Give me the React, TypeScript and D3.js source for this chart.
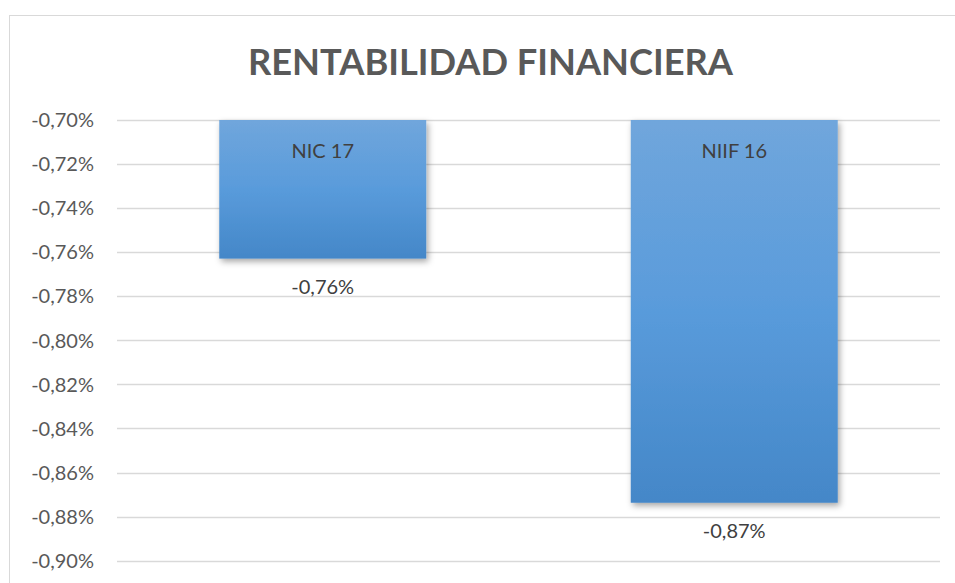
import React, { useRef, useEffect } from 'react';
import * as d3 from 'd3';

const categories = ['NIC 17', 'NIIF 16'];
const values = [-0.7629, -0.8737];
const valueLabels = ['-0,76%', '-0,87%'];
const ticks = [-0.70, -0.72, -0.74, -0.76, -0.78, -0.80, -0.82, -0.84, -0.86, -0.88, -0.90];

const W = 955;
const H = 583;

const App = () => {
  const ref = useRef<SVGSVGElement>(null);

  useEffect(() => {
    const svg = d3.select(ref.current);
    svg.selectAll('*').remove();

    const defs = svg.append('defs');
    const grad = defs.append('linearGradient')
      .attr('id', 'barGrad')
      .attr('x1', 0).attr('y1', 0).attr('x2', 0).attr('y2', 1);
    grad.append('stop').attr('offset', '0%').attr('stop-color', '#70a6dc');
    grad.append('stop').attr('offset', '50%').attr('stop-color', '#599bdb');
    grad.append('stop').attr('offset', '100%').attr('stop-color', '#4487c8');

    const shadow = defs.append('filter')
      .attr('id', 'shadow')
      .attr('x', '-10%').attr('y', '-10%')
      .attr('width', '130%').attr('height', '130%');
    shadow.append('feDropShadow')
      .attr('dx', 2).attr('dy', 3)
      .attr('stdDeviation', 3)
      .attr('flood-color', '#000')
      .attr('flood-opacity', 0.35);

    // chart area border
    svg.append('rect')
      .attr('x', 9.5).attr('y', 15.5)
      .attr('width', W + 10).attr('height', H + 10)
      .attr('fill', 'white')
      .attr('stroke', '#d9d9d9')
      .attr('stroke-width', 1);

    svg.append('text')
      .attr('x', 490.5)
      .attr('y', 75)
      .attr('text-anchor', 'middle')
      .attr('font-family', 'Lato, sans-serif')
      .attr('font-weight', 'bold')
      .attr('font-size', 37)
      .attr('fill', '#595959')
      .attr('textLength', 485)
      .attr('lengthAdjust', 'spacingAndGlyphs')
      .text('RENTABILIDAD FINANCIERA');

    const x = d3.scaleBand()
      .domain(categories)
      .range([117, 940])
      .paddingInner(0.497)
      .paddingOuter(0.2485);

    const y = d3.scaleLinear()
      .domain([-0.70, -0.90])
      .range([120, 560.7]);

    const grid = svg.append('g');
    grid.selectAll('line')
      .data(ticks)
      .enter().append('line')
      .attr('x1', 117).attr('x2', 940)
      .attr('y1', (d) => Math.round(y(d)) + 0.5)
      .attr('y2', (d) => Math.round(y(d)) + 0.5)
      .attr('stroke', '#d9d9d9')
      .attr('stroke-width', 1.5);

    grid.selectAll('text')
      .data(ticks)
      .enter().append('text')
      .attr('x', 94)
      .attr('y', (d) => y(d))
      .attr('dy', '0.36em')
      .attr('text-anchor', 'end')
      .attr('font-family', 'Lato, sans-serif')
      .attr('font-size', 20)
      .attr('fill', '#595959')
      .text((d) => d.toFixed(2).replace('.', ',') + '%');

    const bars = svg.append('g');
    bars.selectAll('rect')
      .data(values)
      .enter().append('rect')
      .attr('x', (d, i) => x(categories[i]))
      .attr('y', y(-0.70))
      .attr('width', x.bandwidth())
      .attr('height', (d) => y(d) - y(-0.70))
      .attr('fill', 'url(#barGrad)')
      .attr('filter', 'url(#shadow)');

    bars.selectAll('text.cat')
      .data(categories)
      .enter().append('text')
      .attr('class', 'cat')
      .attr('x', (d) => x(d) + x.bandwidth() / 2)
      .attr('y', 158)
      .attr('text-anchor', 'middle')
      .attr('font-family', 'Lato, sans-serif')
      .attr('font-size', 20)
      .attr('fill', '#404040')
      .text((d) => d);

    bars.selectAll('text.val')
      .data(values)
      .enter().append('text')
      .attr('class', 'val')
      .attr('x', (d, i) => x(categories[i]) + x.bandwidth() / 2)
      .attr('y', (d) => y(d) + 35)
      .attr('text-anchor', 'middle')
      .attr('font-family', 'Lato, sans-serif')
      .attr('font-size', 20)
      .attr('fill', '#404040')
      .text((d, i) => valueLabels[i]);
  }, []);

  return (
    <svg
      ref={ref}
      width={W}
      height={H}
      style={{ position: 'absolute', left: 0, top: 0, background: 'white' }}
    />
  );
};

export default App;
